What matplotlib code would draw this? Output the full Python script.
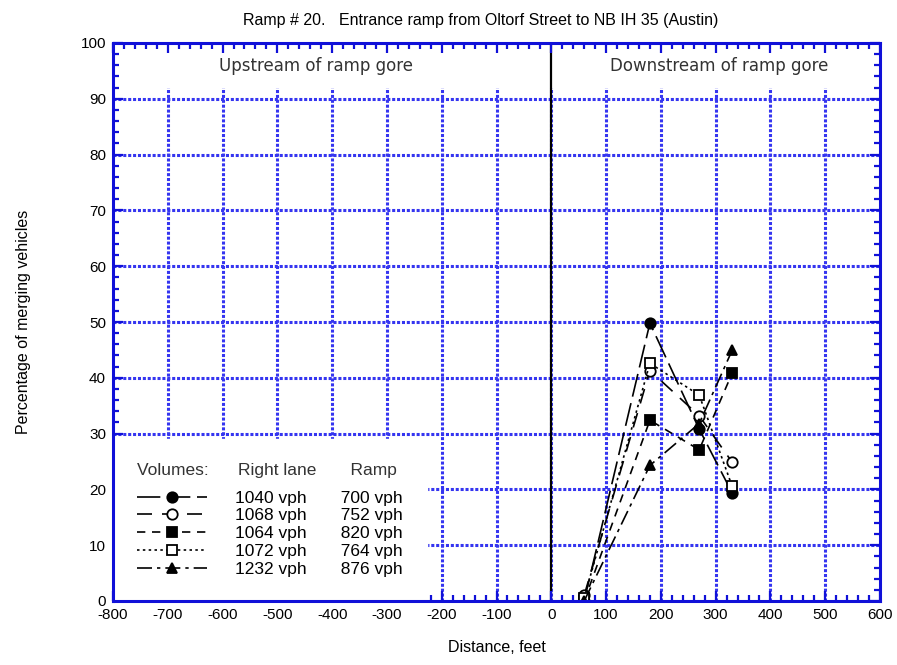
import matplotlib
matplotlib.use("Agg")
import matplotlib.pyplot as plt
from matplotlib.ticker import MultipleLocator
import numpy as np

plt.rcParams["axes.unicode_minus"] = False

# ---- data ----
distance = [60, 180, 270, 330]
series_names = ["1040 vph", "1068 vph", "1064 vph", "1072 vph", "1232 vph"]
ramp_volumes = ["700 vph", "752 vph", "820 vph", "764 vph", "876 vph"]
pct_1040 = [0.0, 49.8, 30.8, 19.4]
pct_1068 = [1.0, 41.3, 33.2, 24.9]
pct_1064 = [0.0, 32.4, 27.1, 40.8]
pct_1072 = [0.5, 42.6, 36.9, 20.6]
pct_1232 = [0.0, 24.3, 31.8, 44.9]
x_ticks = list(range(-800, 601, 100))
y_ticks = list(range(0, 101, 10))

series = [pct_1040, pct_1068, pct_1064, pct_1072, pct_1232]
markers = ["o", "o", "s", "s", "^"]
filled = [True, False, True, False, True]
styles = [(0, (14, 4)), (0, (9, 6)), (0, (5, 4)), (0, (1.5, 2)), (0, (9, 3, 2, 3))]

BLUE = "#1010d8"
GRID = "#3535f0"

fig = plt.figure(figsize=(8.97, 6.65), dpi=100)
ax = fig.add_axes([113/897, 1-601/665, (880-113)/897, (601-43)/665])
ax.set_xlim(-800, 600)
ax.set_ylim(0, 100)

# grid drawn manually beneath everything
for xv in x_ticks[1:-1]:
    ax.axvline(xv, color=GRID, lw=2.2, ls=(0, (1, 0.6)), zorder=0.5)
for yv in y_ticks[1:-1]:
    ax.axhline(yv, color=GRID, lw=2.2, ls=(0, (1, 0.6)), zorder=0.5)

# white band at top covering grid (label area)
ax.axhspan(92, 100, color="white", zorder=0.8, lw=0)

ax.axvline(0, color="black", lw=1.6, zorder=1.5)

handles = []
for y, name, m, f, st in zip(series, series_names, markers, filled, styles):
    h, = ax.plot(distance, y, color="black", lw=1.2, ls=st, marker=m,
                 markersize=7.5, markerfacecolor="black" if f else "white",
                 markeredgecolor="black", markeredgewidth=1.3, zorder=3)
    handles.append(h)

labels = [f"{a}       {b}" for a, b in zip(series_names, ramp_volumes)]
leg = ax.legend(handles, labels, loc="lower left", bbox_to_anchor=(0, 0),
                borderaxespad=0, frameon=True, fancybox=False, framealpha=1,
                edgecolor="white", facecolor="white",
                prop={"family": "Liberation Sans", "size": 12.5},
                title="Volumes:      Right lane       Ramp",
                title_fontproperties={"family": "Liberation Sans", "size": 12.5},
                alignment="left", handlelength=4.0, handletextpad=1.6,
                labelspacing=0.15, borderpad=1.4, numpoints=1)
leg._legend_box.sep = 9
leg.set_zorder(2)
leg.get_title().set_color("#333333")

ax.text(-430, 95.8, "Upstream of ramp gore", ha="center", va="center",
        fontsize=12, family="DejaVu Sans", color="#333333", zorder=2)
ax.text(307, 95.8, "Downstream of ramp gore", ha="center", va="center",
        fontsize=12, family="DejaVu Sans", color="#333333", zorder=2)

ax.set_xticks(x_ticks)
ax.set_yticks(y_ticks)
ax.xaxis.set_minor_locator(MultipleLocator(20))
ax.yaxis.set_minor_locator(MultipleLocator(2))
ax.tick_params(which="both", direction="in", top=True, right=True,
               color=BLUE, width=1.6, labelsize=11, pad=5)
ax.tick_params(which="major", length=7)
ax.tick_params(which="minor", length=4.5)
for lbl in ax.get_xticklabels() + ax.get_yticklabels():
    lbl.set_family("Liberation Sans")
for sp in ax.spines.values():
    sp.set_color(BLUE)
    sp.set_linewidth(2.2)
    sp.set_zorder(4)

ax.set_xlabel("Distance, feet", fontsize=11.5, family="Liberation Sans", labelpad=13)
ax.set_ylabel("Percentage of merging vehicles", fontsize=11.5,
              family="Liberation Sans", labelpad=36)
fig.text(481/897, 1-20/665, "Ramp # 20.   Entrance ramp from Oltorf Street to NB IH 35 (Austin)",
         ha="center", va="center", fontsize=11.5, family="Liberation Sans")

fig.savefig("out.png", dpi=100)
